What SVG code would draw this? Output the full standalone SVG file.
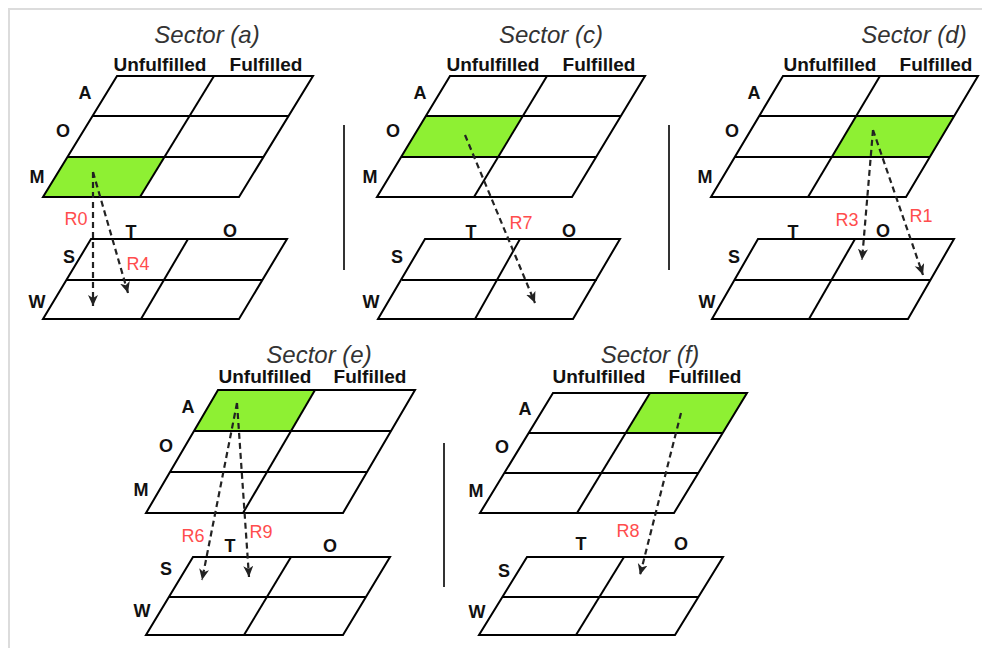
<svg xmlns="http://www.w3.org/2000/svg" width="982" height="648" viewBox="0 0 982 648">
<style>
.grid{fill:none;stroke:#000;stroke-width:2;stroke-linejoin:miter}
.line{stroke:#000;stroke-width:2;fill:none}
.green{fill:#8ef033;stroke:none}
.title{font-family:"Liberation Sans",Arial,sans-serif;font-style:italic;font-size:24px;fill:#333;text-anchor:middle}
.head{font-family:"Liberation Sans",Arial,sans-serif;font-weight:bold;font-size:19px;fill:#111;text-anchor:middle}
.lab{font-family:"Liberation Sans",Arial,sans-serif;font-weight:bold;font-size:18px;fill:#111;text-anchor:middle}
.r{font-family:"Liberation Sans",Arial,sans-serif;font-size:18px;fill:#ff4d4d;text-anchor:middle}
.sep{stroke:#333;stroke-width:2}
.arr{stroke:#222;stroke-width:2.2;stroke-dasharray:6 4;fill:none;marker-end:url(#ah)}
.frame{stroke:#dcdcdc;stroke-width:2}
</style>
<defs>
<marker id="ah" markerUnits="userSpaceOnUse" markerWidth="14" markerHeight="12" refX="11" refY="5" orient="auto">
<path d="M0,0 L11,5 L0,10 L3,5 z" fill="#222"/>
</marker>
</defs>
<rect width="982" height="648" fill="#fff"/>
<line class="frame" x1="8" y1="9" x2="982" y2="9"/>
<line class="frame" x1="9" y1="8" x2="9" y2="648"/>

<g id="sector-a">
<text class="title" x="207" y="43">Sector (a)</text>
<text class="head" x="160" y="71">Unfulfilled</text>
<text class="head" x="266" y="71">Fulfilled</text>
<g id="a-top">
<polygon class="green" points="68,157 165,157 140,197 43,197"/>
<polygon class="grid" points="117,76 313,76 239,197 43,197"/>
<line class="line" x1="92" y1="116" x2="288" y2="116"/>
<line class="line" x1="68" y1="157" x2="264" y2="157"/>
<line class="line" x1="214" y1="76" x2="140" y2="197"/>
<text class="lab" x="85" y="99">A</text>
<text class="lab" x="63" y="137">O</text>
<text class="lab" x="37" y="183">M</text>
</g>
<g id="a-bottom">
<polygon class="grid" points="91,239 287,239 239,319 43,319"/>
<line class="line" x1="67" y1="280" x2="263" y2="280"/>
<line class="line" x1="188" y1="239" x2="141" y2="319"/>
<text class="lab" x="131" y="238">T</text>
<text class="lab" x="230" y="237">O</text>
<text class="lab" x="69" y="263">S</text>
<text class="lab" x="37" y="308">W</text>
</g>
</g>

<g id="sector-c">
<line class="sep" x1="344" y1="125" x2="344" y2="270"/>
<text class="title" x="551" y="43">Sector (c)</text>
<text class="head" x="493" y="71">Unfulfilled</text>
<text class="head" x="599" y="71">Fulfilled</text>
<g id="c-top">
<polygon class="green" points="426,116 523,116 498,157 401,157"/>
<polygon class="grid" points="450,76 645,76 572,197 377,197"/>
<line class="line" x1="426" y1="116" x2="621" y2="116"/>
<line class="line" x1="401" y1="157" x2="596" y2="157"/>
<line class="line" x1="547" y1="76" x2="474" y2="197"/>
<text class="lab" x="420" y="99">A</text>
<text class="lab" x="393" y="137">O</text>
<text class="lab" x="370" y="183">M</text>
</g>
<g id="c-bottom">
<polygon class="grid" points="425,239 620,239 573,319 378,319"/>
<line class="line" x1="402" y1="280" x2="597" y2="280"/>
<line class="line" x1="520" y1="239" x2="475" y2="319"/>
<text class="lab" x="471" y="238">T</text>
<text class="lab" x="569" y="237">O</text>
<text class="lab" x="397" y="263">S</text>
<text class="lab" x="371" y="308">W</text>
</g>
</g>

<g id="sector-d">
<line class="sep" x1="669" y1="125" x2="669" y2="270"/>
<text class="title" x="914" y="43">Sector (d)</text>
<text class="head" x="830" y="71">Unfulfilled</text>
<text class="head" x="936" y="71">Fulfilled</text>
<g id="d-top">
<polygon class="green" points="856,116 954,116 930,157 832,157"/>
<polygon class="grid" points="783,76 978,76 906,197 711,197"/>
<line class="line" x1="759" y1="116" x2="954" y2="116"/>
<line class="line" x1="735" y1="157" x2="930" y2="157"/>
<line class="line" x1="880" y1="76" x2="808" y2="197"/>
<text class="lab" x="754" y="99">A</text>
<text class="lab" x="732" y="137">O</text>
<text class="lab" x="705" y="183">M</text>
</g>
<g id="d-bottom">
<polygon class="grid" points="758,239 954,239 908,319 712,319"/>
<line class="line" x1="735" y1="280" x2="931" y2="280"/>
<line class="line" x1="855" y1="239" x2="809" y2="319"/>
<text class="lab" x="793" y="238">T</text>
<text class="lab" x="883" y="237">O</text>
<text class="lab" x="734" y="263">S</text>
<text class="lab" x="707" y="308">W</text>
</g>
</g>

<g id="sector-e">
<text class="title" x="319" y="363">Sector (e)</text>
<text class="head" x="265" y="383">Unfulfilled</text>
<text class="head" x="370" y="383">Fulfilled</text>
<g id="e-top">
<polygon class="green" points="218,390 315,390 291,431 194,431"/>
<polygon class="grid" points="218,390 415,390 343,513 146,513"/>
<line class="line" x1="194" y1="431" x2="391" y2="431"/>
<line class="line" x1="170" y1="472" x2="367" y2="472"/>
<line class="line" x1="315" y1="390" x2="243" y2="513"/>
<text class="lab" x="188" y="413">A</text>
<text class="lab" x="166" y="452">O</text>
<text class="lab" x="141" y="496">M</text>
</g>
<g id="e-bottom">
<polygon class="grid" points="193,557 390,557 343,635 146,635"/>
<line class="line" x1="169" y1="597" x2="366" y2="597"/>
<line class="line" x1="291" y1="557" x2="244" y2="635"/>
<text class="lab" x="230" y="552">T</text>
<text class="lab" x="330" y="552">O</text>
<text class="lab" x="166" y="575">S</text>
<text class="lab" x="142" y="617">W</text>
</g>
</g>

<g id="sector-f">
<line class="sep" x1="444" y1="443" x2="444" y2="587"/>
<text class="title" x="650" y="363">Sector (f)</text>
<text class="head" x="599" y="383">Unfulfilled</text>
<text class="head" x="705" y="383">Fulfilled</text>
<g id="f-top">
<polygon class="green" points="650,393 747,393 723,433 626,433"/>
<polygon class="grid" points="553,393 747,393 674,513 480,513"/>
<line class="line" x1="529" y1="433" x2="723" y2="433"/>
<line class="line" x1="504" y1="473" x2="698" y2="473"/>
<line class="line" x1="650" y1="393" x2="577" y2="513"/>
<text class="lab" x="525" y="415">A</text>
<text class="lab" x="502" y="453">O</text>
<text class="lab" x="476" y="497">M</text>
</g>
<g id="f-bottom">
<polygon class="grid" points="527,557 723,557 675,635 479,635"/>
<line class="line" x1="503" y1="597" x2="699" y2="597"/>
<line class="line" x1="624" y1="557" x2="576" y2="635"/>
<text class="lab" x="581" y="550">T</text>
<text class="lab" x="681" y="550">O</text>
<text class="lab" x="504" y="577">S</text>
<text class="lab" x="477" y="618">W</text>
</g>
</g>

<g id="connectors">
<line class="arr" x1="93" y1="172" x2="93" y2="306"/>
<line class="arr" x1="93" y1="172" x2="128" y2="293"/>
<line class="arr" x1="465" y1="135" x2="535" y2="303"/>
<line class="arr" x1="873" y1="130" x2="862" y2="260"/>
<line class="arr" x1="873" y1="130" x2="923" y2="275"/>
<line class="arr" x1="237" y1="403" x2="202" y2="580"/>
<line class="arr" x1="237" y1="403" x2="249" y2="577"/>
<line class="arr" x1="681" y1="413" x2="640" y2="575"/>
<text class="r" x="76" y="225">R0</text>
<text class="r" x="138" y="270">R4</text>
<text class="r" x="521" y="229">R7</text>
<text class="r" x="847" y="226">R3</text>
<text class="r" x="921" y="222">R1</text>
<text class="r" x="193" y="542">R6</text>
<text class="r" x="261" y="538">R9</text>
<text class="r" x="628" y="537">R8</text>
</g>
</svg>
